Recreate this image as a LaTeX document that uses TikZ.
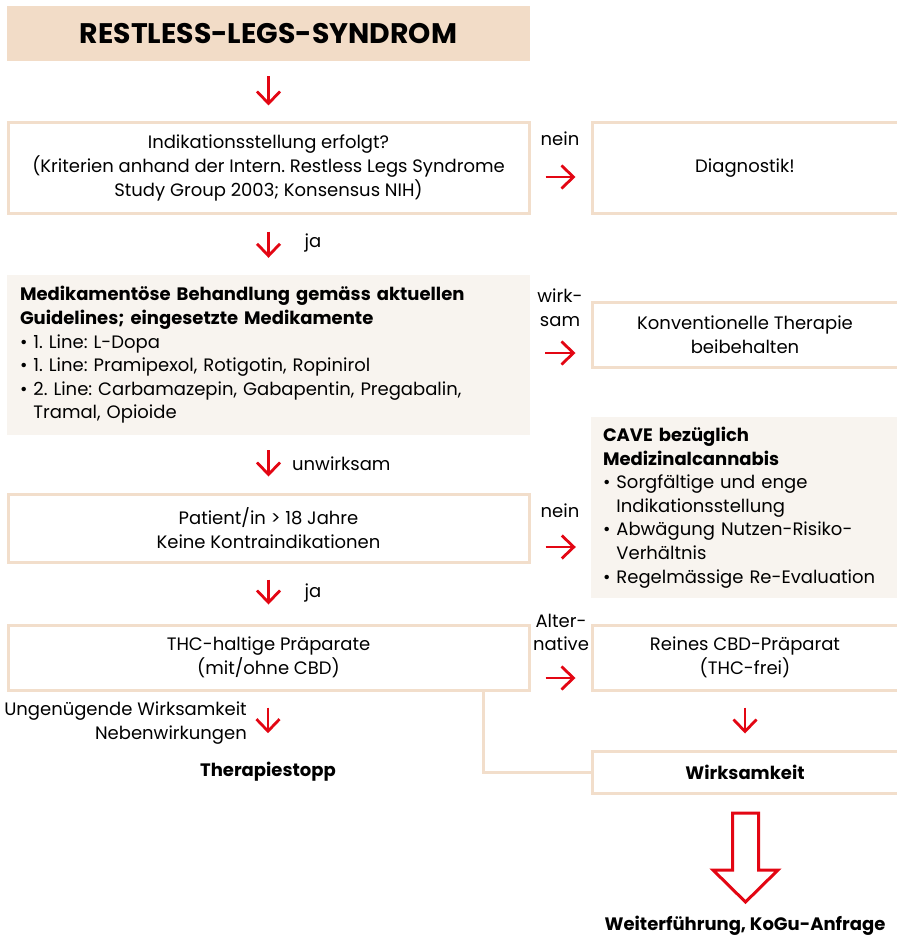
\documentclass[tikz,border=0pt]{standalone}
\usepackage{fontspec}
\setmainfont{Poppins}
\frenchspacing
\usetikzlibrary{arrows.meta,positioning}

\definecolor{rlsred}{HTML}{E30613}
\definecolor{rlsline}{HTML}{F2DECB}
\definecolor{rlstitle}{HTML}{F2DCC7}
\definecolor{rlslight}{HTML}{F8F4EF}

\tikzset{
  every node/.style={font=\fontsize{18}{23.6}\selectfont},
  box/.style={rectangle, draw=rlsline, line width=3pt, inner sep=0pt, align=center},
  shadebox/.style={rectangle, fill=rlslight, inner xsep=12pt, inner ysep=0pt, align=left},
  lbl/.style={inner sep=0pt, align=center},
  down/.style={draw=rlsred, line width=2.8pt, -{Straight Barb[length=12pt,width=23pt]}},
  link/.style={draw=rlsline, line width=3pt},
}

\begin{document}
\begin{tikzpicture}[x=1pt, y=-1pt]
    \useasboundingbox (0,0) rectangle (896,936);

    % left column
    \node (title) at (268.5,33.5) [rectangle,fill=rlstitle,minimum width=523pt,minimum height=55pt,
        font=\fontsize{28.3}{32}\selectfont\bfseries] {RESTLESS-LEGS-SYNDROM};
    \node (ind) at (268.5,168) [box,minimum width=521pt,minimum height=90pt]
        {Indikationsstellung erfolgt?\\(Kriterien anhand der Intern. Restless Legs Syndrome\\Study Group 2003; Konsensus NIH)};
    \node (med) at (268.5,355) [shadebox,minimum width=523pt,minimum height=160pt,text width=497pt]
        {\textbf{Medikamentöse Behandlung gemäss aktuellen}\\
         \textbf{Guidelines; eingesetzte Medikamente}\\
         • 1. Line: L-Dopa\\
         • 1. Line: Pramipexol, Rotigotin, Ropinirol\\
         • 2. Line: Carbamazepin, Gabapentin, Pregabalin,\\
         \phantom{• }Tramal, Opioide};
    \node (pat) at (268.5,528) [box,minimum width=521pt,minimum height=68pt]
        {Patient/in > 18 Jahre\\Keine Kontraindikationen};
    \node (thc) at (268.5,657.5) [box,minimum width=521pt,minimum height=65pt]
        {THC-haltige Präparate\\(mit/ohne CBD)};
    \node (stop) at (268,772) [lbl,font=\fontsize{18}{23.6}\selectfont\bfseries] {Therapiestopp};

    % right column
    \node (diag) at (745,168) [box,minimum width=306pt,minimum height=90pt] {Diagnostik!};
    \node (konv) at (745,334.5) [box,minimum width=306pt,minimum height=65pt]
        {Konventionelle Therapie\\beibehalten};
    \node (cave) at (745,507.5) [shadebox,minimum width=306pt,minimum height=181pt,text width=284pt]
        {\textbf{CAVE bezüglich}\\
         \textbf{Medizinalcannabis}\\
         • Sorgfältige und enge\\
         \phantom{• }Indikationsstellung\\
         • Abwägung Nutzen-Risiko-\\
         \phantom{• }Verhältnis\\
         • Regelmässige Re-Evaluation};
    \node (cbd) at (745,657.5) [box,minimum width=306pt,minimum height=65pt]
        {Reines CBD-Präparat\\(THC-frei)};
    \node (wirk) at (745,772) [box,minimum width=306pt,minimum height=42pt,font=\fontsize{18}{23.6}\selectfont\bfseries]
        {Wirksamkeit};
    \node (weiter) at (745,926) [lbl,font=\fontsize{18}{23.6}\selectfont\bfseries] {Weiterführung, KoGu-Anfrage};

    % labels
    \node (nein1) at (560,139) [lbl] {nein};
    \node (ja1) at (313,243) [lbl] {ja};
    \node (wirksam) at (560,308) [lbl] {wirk-\\sam};
    \node (unwirk) at (292,464) [lbl,anchor=west] {unwirksam};
    \node (nein2) at (560,511) [lbl] {nein};
    \node (ja2) at (313,593) [lbl] {ja};
    \node (alt) at (561,632.5) [lbl] {Alter-\\native};
    \node (grund) at (247,723) [lbl,anchor=east,align=right] {Ungenügende Wirksamkeit\\Nebenwirkungen};

    % arrows down
    \draw[down, shorten <=15pt, shorten >=16pt] (title) -- (ind);
    \draw[down, shorten <=17pt, shorten >=17pt] (ind) -- (med);
    \draw[down, shorten <=15pt, shorten >=16pt] (med) -- (pat);
    \draw[down, shorten <=16pt, shorten >=19pt] (pat) -- (thc);
    \draw[down, shorten <=16pt, shorten >=29pt] (thc.south -| stop) -- (stop);
    \draw[down, shorten <=16pt, shorten >=16pt] (cbd) -- (wirk);

    % arrows right
    \draw[down, shorten <=15pt, shorten >=15pt] (ind.east |- 0,177) -- (diag.west |- 0,177);
    \draw[down, shorten <=15pt, shorten >=15pt] (med.east |- 0,353) -- (konv.west |- 0,353);
    \draw[down, shorten <=15pt, shorten >=15pt] (pat.east |- 0,547) -- (cave.west |- 0,547);
    \draw[down, shorten <=15pt, shorten >=15pt] (thc.east |- 0,678) -- (cbd.west |- 0,678);

    % THC -> Wirksamkeit
    \draw[link] ([xshift=-47pt]thc.south east) |- (wirk.west);

    % big arrow
    \draw[draw=rlsred, line width=3pt, fill=white, line join=miter]
        (732.5,813) -- (732.5,870) -- (713,870) -- (745.5,902) -- (778,870)
        -- (758.5,870) -- (758.5,813) -- cycle;
\end{tikzpicture}
\end{document}
